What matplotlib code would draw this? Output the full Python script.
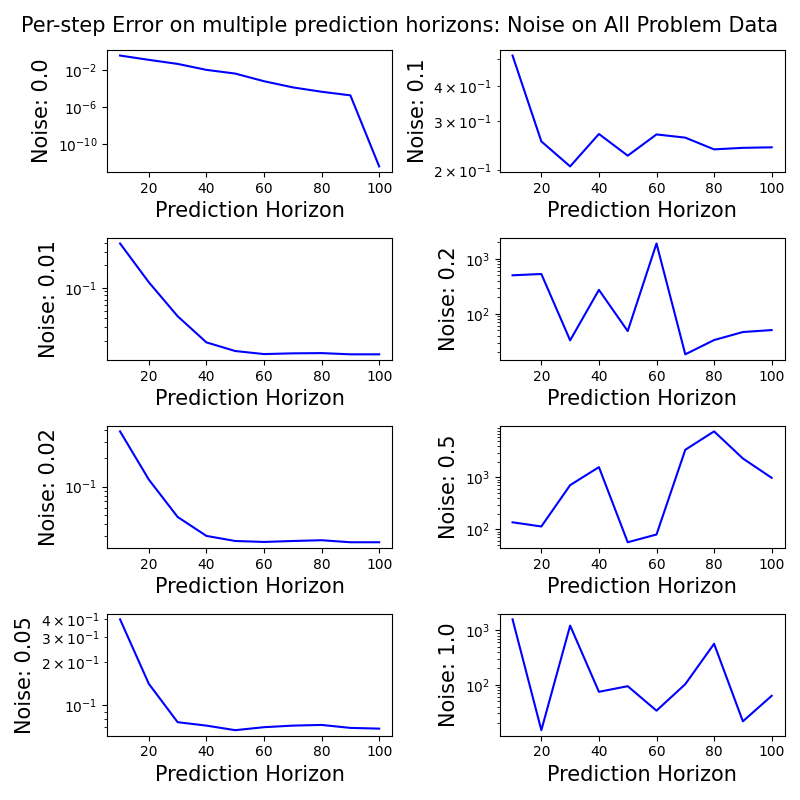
import numpy as np
import matplotlib
matplotlib.use("Agg")
import matplotlib.pyplot as plt

horizons = [10, 20, 30, 40, 50, 60, 70, 80, 90, 100]
noise_levels = [0.0, 0.01, 0.02, 0.05, 0.1, 0.2, 0.5, 1.0]

err_0_0 = [0.35, 0.12, 0.044, 0.01, 0.004, 6e-4, 1.3e-4, 4.4e-5, 1.8e-5, 4e-13]
err_0_01 = [0.389, 0.119, 0.0422, 0.019, 0.0146, 0.0133, 0.0136, 0.0137, 0.0132, 0.0132]
err_0_02 = [0.388, 0.119, 0.0476, 0.0299, 0.0264, 0.0258, 0.0264, 0.0269, 0.0256, 0.0256]
err_0_05 = [0.4, 0.141, 0.0759, 0.0718, 0.0667, 0.07, 0.0718, 0.0726, 0.0692, 0.0684]
err_0_1 = [0.513, 0.253, 0.206, 0.269, 0.225, 0.268, 0.261, 0.237, 0.240, 0.241]
err_0_2 = [500, 528, 33, 272, 48.6, 1890, 18.4, 33.4, 46.7, 50.7]
err_0_5 = [136, 113, 711, 1585, 56, 79, 3430, 7770, 2330, 985]
err_1_0 = [1585, 14.8, 1216, 74.6, 94.6, 33.7, 103, 565, 21.5, 63]

errors = [err_0_0, err_0_01, err_0_02, err_0_05, err_0_1, err_0_2, err_0_5, err_1_0]

# major ticks of the first panel, as in the original
ticks_0_0 = [1e-2, 1e-6, 1e-10]

fig, axes = plt.subplots(4, 2, figsize=(8, 8))
for i, (noise, err) in enumerate(zip(noise_levels, errors)):
    ax = axes[i % 4, i // 4]
    ax.plot(horizons, err, color='blue')
    ax.set_yscale('log')
    ax.set_xlabel('Prediction Horizon', fontsize=15)
    ax.set_ylabel(f'Noise: {noise}', fontsize=15)
    if i == 0:
        ylim = ax.get_ylim()
        ax.set_yticks(ticks_0_0)
        ax.set_ylim(ylim)

fig.suptitle('Per-step Error on multiple prediction horizons: Noise on All Problem Data', fontsize=15)
plt.tight_layout()
plt.savefig('out.png', dpi=100)
